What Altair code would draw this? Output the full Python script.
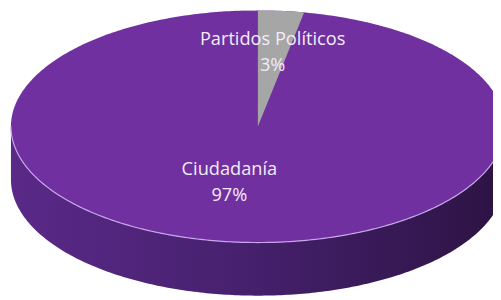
import altair as alt
import numpy as np
import pandas as pd

# ---- data ----
categories = ["Ciudadanía", "Partidos Políticos"]
values = [97, 3]

# ---- layout (screen-pixel space of the 3D pie) ----
CX, CY, RX, RY, DEPTH = 262, 126, 251, 118, 54
LABEL_POS = {"Ciudadanía": (233, 169), "Partidos Políticos": (277, 37)}
SLICE_COLORS = {"Ciudadanía": "#7030A0", "Partidos Políticos": "#A6A6A6"}

total = sum(values)
share = {c: v / total for c, v in zip(categories, values)}

# top face ellipse (full), side band
t = np.linspace(0, np.pi, 241)
xe = CX - RX * np.cos(t)
s = np.sin(t)
ellipse = pd.DataFrame({"x": xe, "yup": CY - RY * s, "ylow": CY + RY * s})
side = pd.DataFrame({"x": xe, "ytop": CY + RY * s, "ybot": CY + RY * s + DEPTH})

# small slice wedge starting at 12 o'clock, clockwise
a = 2 * np.pi * share["Partidos Políticos"]
u = np.linspace(0, a, 40)
wx = CX + RX * np.sin(u)
x1, y1 = CX + RX * np.sin(a), CY - RY * np.cos(a)
wedge = pd.DataFrame({
    "x": wx,
    "ytop": CY - RY * np.cos(u),
    "ybot": CY + (wx - CX) / (x1 - CX) * (y1 - CY),
})

labels = pd.DataFrame({
    "cat": categories,
    "x": [LABEL_POS[c][0] for c in categories],
    "y": [LABEL_POS[c][1] for c in categories],
    "txt": [f"{c}\n{round(v / total * 100)}%" for c, v in zip(categories, values)],
})

W, H = 493, 292
xs = alt.Scale(domain=[8, 501], nice=False, zero=False)
ys = alt.Scale(domain=[8, 300], nice=False, zero=False, reverse=True)


def X(f):
    return alt.X(f, type="quantitative", scale=xs, axis=None)


def Y(f):
    return alt.Y(f, type="quantitative", scale=ys, axis=None, stack=None)


side_layer = alt.Chart(side).mark_area(
    clip=True,
    color=alt.Gradient(
        gradient="linear",
        stops=[
            alt.GradientStop(color="#5a2988", offset=0),
            alt.GradientStop(color="#47216f", offset=0.45),
            alt.GradientStop(color="#2c1343", offset=1),
        ],
        x1=0, x2=1, y1=0, y2=0,
    ),
).encode(x=X("x"), y=Y("ytop"), y2=alt.Y2("ybot"))

top_layer = alt.Chart(ellipse).mark_area(clip=True, color=SLICE_COLORS["Ciudadanía"]).encode(
    x=X("x"), y=Y("yup"), y2=alt.Y2("ylow")
)

edge_layer = alt.Chart(ellipse).mark_line(clip=True, color="#c8a6e8", strokeWidth=1.2).encode(
    x=X("x"), y=Y("ylow")
)

wedge_layer = alt.Chart(wedge).mark_area(clip=True, color=SLICE_COLORS["Partidos Políticos"]).encode(
    x=X("x"), y=Y("ytop"), y2=alt.Y2("ybot")
)

text_layer = alt.Chart(labels).mark_text(
    font="Open Sans", fontSize=18.5, color="#F3ECF9", lineBreak="\n", lineHeight=27,
    align="center", baseline="middle",
).encode(x=X("x"), y=Y("y"), text="txt:N")

chart = alt.layer(side_layer, top_layer, edge_layer, wedge_layer, text_layer).properties(
    width=W, height=H, padding=0, autosize=alt.AutoSizeParams(type="none"),
    background="white",
).configure_view(stroke=None)

chart.save("out.html", embed_options={"renderer": "svg", "actions": False})
